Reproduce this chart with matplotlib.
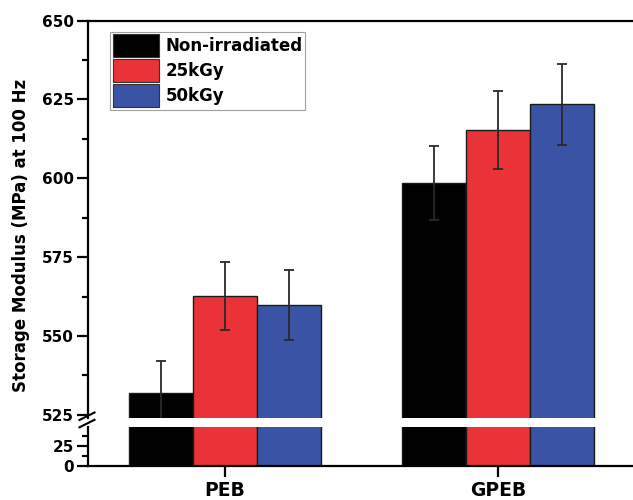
import numpy as np
import matplotlib.pyplot as plt
from matplotlib.patches import Patch
from matplotlib.lines import Line2D

plt.rcParams['font.family'] = ['DejaVu Sans']
plt.rcParams['font.weight'] = 'bold'

groups = ['PEB', 'GPEB']
series = ['Non-irradiated', '25kGy', '50kGy']
colors = ['#000000', '#EA3338', '#3B53A4']
values = [[532.0, 598.5],
          [562.7, 615.4],
          [559.8, 623.4]]
errors = [[10.0, 11.8],
          [10.9, 12.4],
          [11.1, 12.9]]

W, H = 633, 500
fig = plt.figure(figsize=(W / 100, H / 100), dpi=100)
left = 88 / W
width = (634.5 - 88) / W
ax_top = fig.add_axes([left, 82.3 / H, width, 397.2 / H])
ax_bot = fig.add_axes([left, 34 / H, width, 39.3 / H])

x = np.arange(len(groups))
bw = 0.234
for ax in (ax_top, ax_bot):
    for i, name in enumerate(series):
        ax.bar(x + (i - 1) * bw, values[i], bw, color=colors[i],
               edgecolor='#1a1a1a', linewidth=1.0, zorder=2)
        ax.errorbar(x + (i - 1) * bw, values[i], yerr=errors[i], fmt='none',
                    ecolor='#2a2a2a', elinewidth=1.3, capsize=3.4, capthick=1.3, zorder=3)
    ax.set_xlim(-0.5, 1.5)
    for s in ax.spines.values():
        s.set_linewidth(1.6)
    ax.tick_params(axis='y', which='major', length=8, width=1.6, labelsize=11, pad=2)
    ax.tick_params(axis='y', which='minor', length=4.5, width=1.6)

ax_top.set_ylim(524.1, 650)
ax_top.set_yticks([525, 550, 575, 600, 625, 650])
ax_top.set_yticks(np.arange(537.5, 650, 25), minor=True)
ax_top.spines['bottom'].set_visible(False)
ax_top.tick_params(axis='x', bottom=False, labelbottom=False)

ax_bot.set_ylim(0, 48.4)
ax_bot.set_yticks([0, 25])
ax_bot.set_yticks([12.5, 37.5], minor=True)
ax_bot.spines['top'].set_visible(False)
ax_bot.set_xticks(x)
ax_bot.set_xticklabels(groups, fontsize=13.5, fontweight='bold')
ax_bot.tick_params(axis='x', length=8, width=1.6, pad=3)

# break marks on the y axis
for y0 in (420.0, 427.3):
    fig.add_artist(Line2D([79.5 / W, 94.5 / W], [1 - y0 / H, 1 - (y0 - 7.5) / H],
                          color='black', linewidth=1.5))

fig.text(21 / W, 1 - 235 / H, 'Storage Modulus (MPa) at 100 Hz', rotation=90,
         ha='center', va='center', fontsize=12, fontweight='bold')

handles = [Patch(facecolor=c, edgecolor='#333333', linewidth=0.8) for c in colors]
leg = fig.legend(handles, series, loc='upper left',
                 bbox_to_anchor=(110 / W, 1 - 31.5 / H), fontsize=12,
                 handlelength=2.8, handleheight=1.75, labelspacing=0.12,
                 handletextpad=0.4, borderpad=0.15, borderaxespad=0,
                 frameon=True, fancybox=False, edgecolor='#888888')
leg.get_frame().set_linewidth(0.8)
for t in leg.get_texts():
    t.set_fontweight('bold')

fig.savefig('out.png', dpi=100)
